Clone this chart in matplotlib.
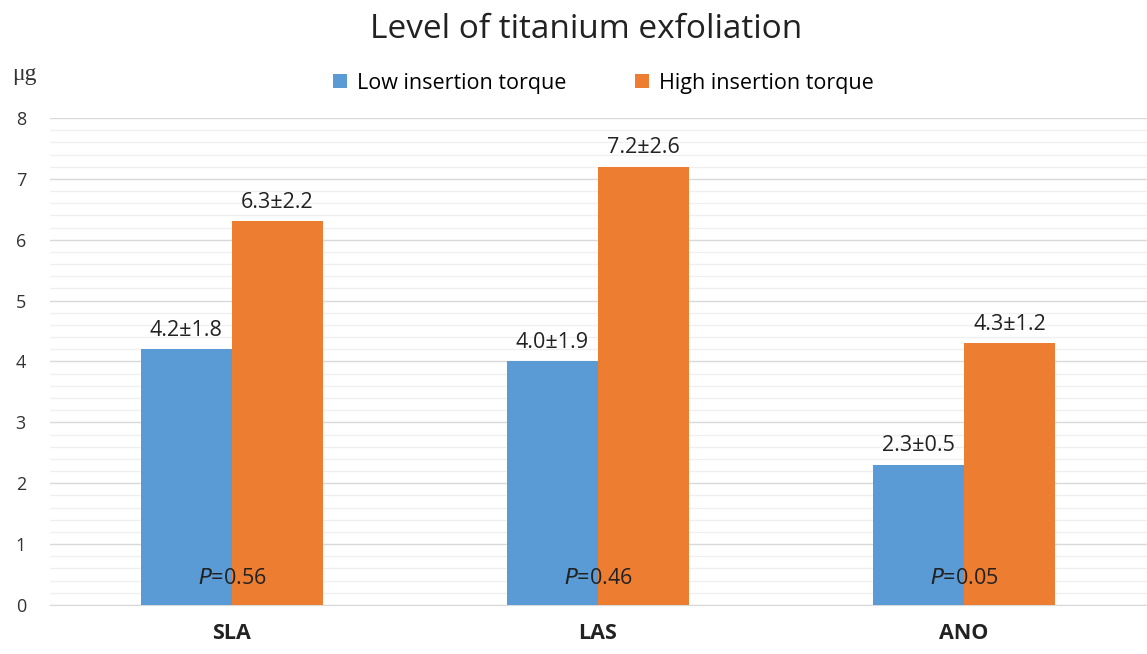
import numpy as np
import matplotlib.pyplot as plt

# Data
groups = ["SLA", "LAS", "ANO"]
low_mean = [4.2, 4.0, 2.3]
low_sd = [1.8, 1.9, 0.5]
high_mean = [6.3, 7.2, 4.3]
high_sd = [2.2, 2.6, 1.2]
p_values = ["0.56", "0.46", "0.05"]

blue = "#5B9BD5"
orange = "#ED7D31"

plt.rcParams['font.family'] = ['Open Sans', 'DejaVu Sans']

fig = plt.figure(figsize=(11.47, 6.54), dpi=100)
ax = fig.add_axes([0.0436, 0.0749, 0.9564, 0.7447])

x = np.arange(len(groups))
w = 0.249
b1 = ax.bar(x - w / 2, low_mean, w, color=blue, label="Low insertion torque", zorder=3)
b2 = ax.bar(x + w / 2, high_mean, w, color=orange, label="High insertion torque", zorder=3)

for i in range(len(groups)):
    ax.text(x[i] - w / 2, low_mean[i] + 0.14, f"{low_mean[i]:.1f}\u00b1{low_sd[i]:.1f}",
            ha="center", va="bottom", fontsize=15.5, color="#222222")
    ax.text(x[i] + w / 2, high_mean[i] + 0.14, f"{high_mean[i]:.1f}\u00b1{high_sd[i]:.1f}",
            ha="center", va="bottom", fontsize=15.5, color="#222222")
    ax.text(x[i], 0.44, f"$\\it{{P}}$={p_values[i]}", ha="center", va="center",
            fontsize=15.5, color="#222222", zorder=4)

ax.set_xlim(-0.497, 2.5)
ax.set_ylim(0, 8)
ax.set_yticks(np.arange(0, 9, 1))
ax.set_yticks(np.arange(0, 8.01, 0.2), minor=True)
ax.grid(axis="y", which="major", color="#d9d9d9", linewidth=1.0, zorder=0)
ax.grid(axis="y", which="minor", color="#efefef", linewidth=0.9, zorder=0)
ax.tick_params(axis="y", which="both", length=0, labelsize=13, labelcolor="#333333", pad=21)
ax.set_yticklabels([str(v) for v in range(9)], ha="center")
ax.set_xticks(x)
ax.set_xticklabels(groups, fontsize=15.5, fontweight="bold", color="#222222")
ax.tick_params(axis="x", length=0, pad=13)
for s in ["top", "right", "left"]:
    ax.spines[s].set_visible(False)
ax.spines["bottom"].set_color("#d9d9d9")

fig.text(0.511, 0.955, "Level of titanium exfoliation", ha="center", va="center",
         fontsize=24, color="#222222")
fig.text(0.011, 0.886, "\u03bcg", ha="left", va="center", fontsize=17,
         family=["Liberation Serif", "DejaVu Serif"], color="#333333")
fig.legend(handles=[b1, b2], loc="center", bbox_to_anchor=(0.526, 0.873), ncol=2,
           frameon=False, fontsize=15.5, handlelength=0.65, handleheight=0.65,
           handletextpad=0.45, columnspacing=3.2)

fig.savefig("out.png", dpi=100)
